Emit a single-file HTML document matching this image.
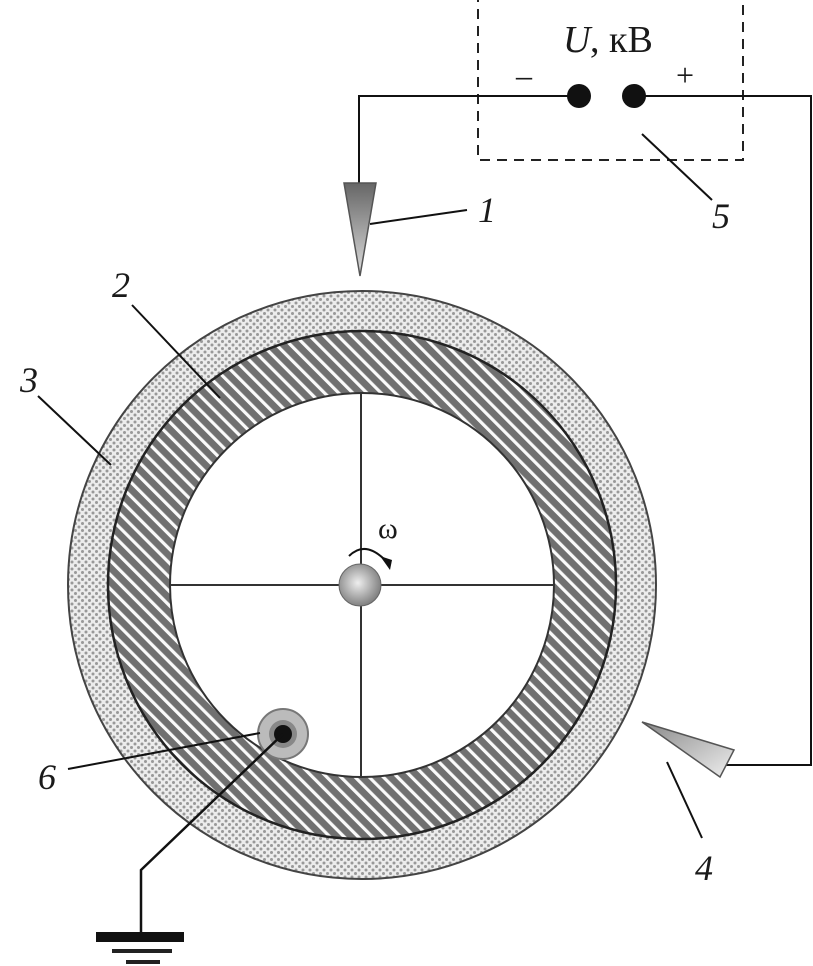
<!DOCTYPE html>
<html><head><meta charset="utf-8"><style>
html,body{margin:0;padding:0;background:#fff;}
svg{display:block;}
text{font-family:"Liberation Serif",serif;fill:#1a1a1a;}
</style></head><body>
<svg width="813" height="966" viewBox="0 0 813 966" xmlns="http://www.w3.org/2000/svg">
<defs>
<pattern id="dots" width="7" height="7" patternUnits="userSpaceOnUse">
<rect width="7" height="7" fill="#ececec"/>
<circle cx="2" cy="2" r="1.5" fill="#999"/>
<circle cx="5.5" cy="5.5" r="1.5" fill="#999"/>
</pattern>
<pattern id="hatch" width="10" height="10" patternUnits="userSpaceOnUse" patternTransform="rotate(-45)">
<rect width="10" height="10" fill="#707070"/>
<rect x="0" y="0" width="3.2" height="10" fill="#fafafa"/>
</pattern>
<radialGradient id="ball" cx="0.45" cy="0.45" r="0.6">
<stop offset="0" stop-color="#eee"/><stop offset="1" stop-color="#777"/>
</radialGradient>
<linearGradient id="needle" x1="0" y1="0" x2="0" y2="1">
<stop offset="0" stop-color="#666"/><stop offset="1" stop-color="#ddd"/>
</linearGradient>
<linearGradient id="needle2" x1="0" y1="0" x2="1" y2="1">
<stop offset="0" stop-color="#888"/><stop offset="1" stop-color="#eee"/>
</linearGradient>
</defs>

<circle cx="362" cy="585" r="294" fill="url(#dots)" stroke="#444" stroke-width="2"/>
<circle cx="362" cy="585" r="254" fill="url(#hatch)" stroke="#222" stroke-width="2.5"/>
<circle cx="362" cy="585" r="192" fill="#fff" stroke="#333" stroke-width="2"/>

<line x1="361" y1="393" x2="361" y2="777" stroke="#333" stroke-width="2"/>
<line x1="170" y1="585" x2="554" y2="585" stroke="#333" stroke-width="2"/>
<circle cx="360" cy="585" r="21" fill="url(#ball)" stroke="#666" stroke-width="1"/>
<path d="M349 556 Q365 540 385 560" fill="none" stroke="#111" stroke-width="2"/>
<polygon points="380,556 392,560 390,570" fill="#111"/>
<text x="378" y="538" font-size="30">ω</text>

<circle cx="283" cy="734" r="25" fill="#bbb" stroke="#777" stroke-width="2"/>
<circle cx="283" cy="734" r="14" fill="#888"/>
<circle cx="283" cy="734" r="9" fill="#111"/>
<polyline points="283,734 141,870 141,937" fill="none" stroke="#111" stroke-width="2.5"/>
<rect x="96" y="932" width="88" height="10" fill="#111"/>
<rect x="112" y="949" width="60" height="4" fill="#222"/>
<rect x="126" y="960" width="34" height="4" fill="#222"/>

<rect x="478" y="-2" width="265" height="162" fill="none" stroke="#222" stroke-width="2" stroke-dasharray="10,7"/>
<text x="563" y="52" font-size="38" font-style="italic">U</text>
<text x="590" y="52" font-size="38">, кВ</text>
<text x="516" y="86" font-size="32">–</text>
<text x="676" y="86" font-size="32">+</text>
<polyline points="579,96 359,96 359,183" fill="none" stroke="#111" stroke-width="2"/>
<polyline points="634,96 811,96 811,765 726,765" fill="none" stroke="#111" stroke-width="2"/>
<circle cx="579" cy="96" r="12" fill="#111"/>
<circle cx="634" cy="96" r="12" fill="#111"/>

<polygon points="344,183 376,183 360,276" fill="url(#needle)" stroke="#555" stroke-width="1.5"/>
<polygon points="642,722 734,750 720,777" fill="url(#needle2)" stroke="#555" stroke-width="1.5"/>

<g stroke="#111" stroke-width="2">
<line x1="370" y1="224" x2="467" y2="210"/>
<line x1="642" y1="134" x2="712" y2="200"/>
<line x1="132" y1="305" x2="220" y2="398"/>
<line x1="38" y1="396" x2="111" y2="465"/>
<line x1="68" y1="769" x2="260" y2="733"/>
<line x1="667" y1="762" x2="702" y2="838"/>
</g>
<g font-size="36" font-style="italic">
<text x="478" y="222">1</text>
<text x="712" y="228">5</text>
<text x="112" y="297">2</text>
<text x="20" y="392">3</text>
<text x="38" y="789">6</text>
<text x="695" y="880">4</text>
</g>
</svg>
</body></html>
